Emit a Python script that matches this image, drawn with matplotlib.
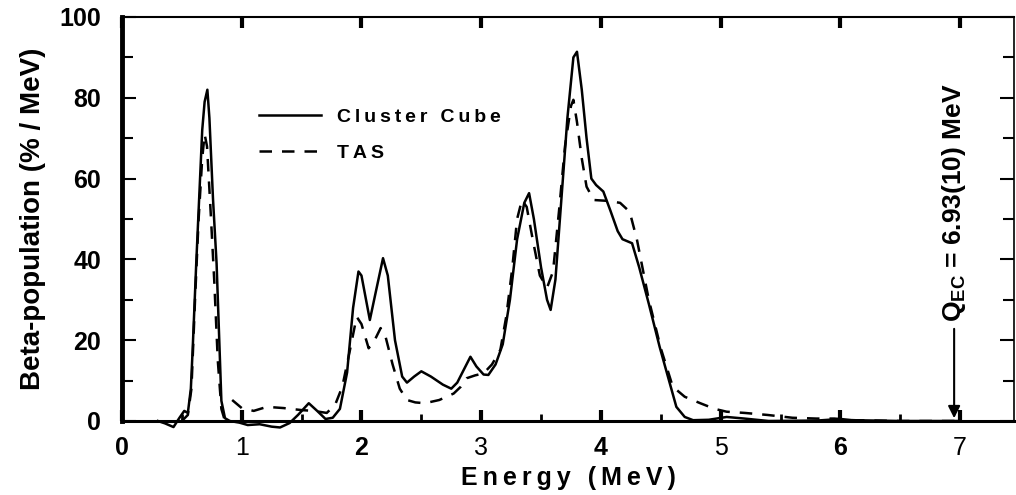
import numpy as np
import matplotlib
matplotlib.use("Agg")
import matplotlib.pyplot as plt
from matplotlib.ticker import MultipleLocator

plt.rcParams['font.family'] = ['Liberation Sans', 'DejaVu Sans']
plt.rcParams['mathtext.fontset'] = 'custom'
plt.rcParams['mathtext.rm'] = 'Liberation Sans'
plt.rcParams['mathtext.bf'] = 'Liberation Sans:bold'

# ---- data ----
cube_E = [0.30, 0.36, 0.43, 0.48, 0.52, 0.55, 0.575, 0.59, 0.62, 0.67, 0.69, 0.713, 0.73, 0.76, 0.79,
          0.81, 0.83, 0.86, 0.90, 0.98, 1.05, 1.15, 1.25, 1.32, 1.40, 1.47, 1.56, 1.63, 1.70, 1.76,
          1.82, 1.88, 1.93, 1.975, 2.00, 2.07, 2.12, 2.18, 2.22, 2.28, 2.34, 2.38, 2.44, 2.50, 2.58,
          2.68, 2.75, 2.80, 2.86, 2.91, 2.96, 3.02, 3.06, 3.12, 3.18, 3.24, 3.30, 3.36, 3.40, 3.44,
          3.50, 3.55, 3.58, 3.62, 3.67, 3.72, 3.77, 3.80, 3.84, 3.88, 3.92, 3.96, 4.02, 4.08, 4.14,
          4.18, 4.26, 4.32, 4.40, 4.49, 4.55, 4.63, 4.70, 4.77, 4.90, 5.05, 5.20, 5.40, 5.80, 6.00,
          6.10, 6.50, 7.00]
cube_B = [0.0, -0.6, -1.5, 0.8, 2.5, 2.0, 8.0, 17.6, 39.0, 72.0, 79.0, 82.0, 75.0, 55.0, 39.0,
          22.0, 5.0, 0.7, 0.0, -0.4, -1.0, -0.8, -1.4, -1.6, -0.5, 1.5, 4.4, 2.5, 0.5, 0.8,
          3.0, 12.0, 28.0, 37.0, 36.0, 25.0, 32.0, 40.3, 36.0, 20.0, 11.0, 9.5, 11.0, 12.3, 11.0,
          9.0, 8.0, 9.5, 13.0, 15.9, 13.5, 11.5, 11.4, 14.0, 19.0, 30.0, 45.0, 54.0, 56.4, 50.0,
          38.0, 30.0, 27.5, 35.0, 55.0, 75.0, 90.0, 91.4, 82.0, 70.0, 60.0, 58.4, 56.8, 52.0, 47.0,
          45.0, 44.0, 38.0, 29.0, 18.4, 12.0, 3.5, 1.0, 0.2, 0.3, 1.0, 0.6, 0.0, 0.1, 0.5,
          0.2, 0.0, 0.0]

tas_E = [0.50, 0.55, 0.58, 0.61, 0.64, 0.67, 0.69, 0.71, 0.74, 0.77, 0.80, 0.83, 0.86, np.nan,
         0.92, 1.00, 1.10, 1.21, 1.35, 1.50, 1.60, 1.71, 1.78, 1.84, 1.90, 1.96, 2.00, 2.06, 2.11,
         2.16, 2.20, 2.26, 2.32, 2.38, 2.45, 2.53, 2.65, 2.77, 2.83, 2.88, 2.95, 3.02, 3.09, 3.16,
         3.21, 3.26, 3.30, 3.34, 3.38, 3.43, 3.49, 3.55, 3.60, 3.65, 3.70, 3.75, 3.77, 3.80, 3.84,
         3.88, 3.94, 4.05, 4.16, 4.24, 4.30, 4.40, 4.50, 4.60, 4.70, 4.83, 4.95, 5.05, 5.20, 5.39,
         5.60, 5.80, 5.95, 6.10, 6.50, 7.00]
tas_B = [0.0, 1.5, 8.0, 30.0, 50.0, 65.0, 71.0, 68.0, 52.0, 35.0, 15.0, 3.0, 0.0, np.nan,
         5.2, 3.2, 2.5, 3.5, 3.2, 2.7, 2.5, 2.0, 4.0, 8.5, 17.0, 25.8, 24.0, 18.0, 20.0,
         23.0, 21.0, 14.0, 8.0, 5.2, 4.6, 4.4, 5.2, 6.8, 8.5, 10.6, 11.3, 11.8, 14.0, 17.6,
         26.0, 38.0, 50.0, 54.7, 53.0, 45.0, 36.0, 33.0, 37.0, 52.0, 68.0, 78.0, 79.5, 74.0, 65.0,
         58.0, 54.7, 54.5, 54.0, 51.8, 45.0, 30.0, 18.0, 8.5, 6.0, 4.4, 3.0, 2.3, 2.0, 1.5,
         0.8, 0.6, 0.6, 0.2, 0.0, 0.0]

x_ticks = [0, 1, 2, 3, 4, 5, 6, 7]
y_ticks = [0, 20, 40, 60, 80, 100]
q_ec = 6.95
q_label = r'$\mathbf{Q_{EC}}$ = 6.93(10) MeV'

def spaced(s):
    return '\u2009'.join(s)

fig = plt.figure(figsize=(10.16, 4.95), dpi=100)
ax = fig.add_axes([122/1016, 74/495, (1014-122)/1016, (421-17)/495])

ax.plot(cube_E, cube_B, color='black', lw=1.8, ls='-', clip_on=False, label=spaced('Cluster Cube'))
ax.plot(tas_E, tas_B, color='black', lw=1.8, ls=(0, (5, 4)), clip_on=False, label=spaced('TAS'))

ax.set_xlim(0, 7.45)
ax.set_ylim(0, 100)

ax.xaxis.set_major_locator(MultipleLocator(1))
ax.xaxis.set_minor_locator(MultipleLocator(0.5))
ax.yaxis.set_major_locator(MultipleLocator(20))
ax.yaxis.set_minor_locator(MultipleLocator(10))
ax.set_xticks(x_ticks)
ax.set_yticks(y_ticks)
ax.set_xticklabels([str(t) for t in x_ticks])
ax.set_yticklabels([str(t) for t in y_ticks])

ax.tick_params(axis='both', which='both', direction='in', top=True, right=True)
ax.tick_params(axis='x', which='major', length=8, width=3, pad=11, labelsize=18)
ax.tick_params(axis='x', which='minor', length=5, width=2, top=False)
ax.tick_params(axis='y', which='major', length=10, width=1.5, pad=15, labelsize=18)
ax.tick_params(axis='y', which='minor', length=8, width=1.5)

for lab in ax.get_yticklabels():
    lab.set_fontweight('bold')
for t, lab in zip(x_ticks, ax.get_xticklabels()):
    lab.set_fontweight('bold' if t % 2 == 0 else 'normal')

ax.spines['left'].set_linewidth(3.5)
ax.spines['bottom'].set_linewidth(2.2)
ax.spines['top'].set_linewidth(1.5)
ax.spines['right'].set_linewidth(1.2)

ax.set_xlabel(spaced('Energy (MeV)'), fontsize=18, fontweight='bold', labelpad=4)
ax.set_ylabel('Beta-population (% / MeV)', fontsize=20, fontweight='bold', labelpad=10)

leg = ax.legend(loc='upper left', bbox_to_anchor=(0.134, 0.818), frameon=False,
                prop={'size': 14, 'weight': 'bold'}, handlelength=3.2, handletextpad=0.8,
                labelspacing=0.95)

ax.annotate('', xy=(q_ec, 0), xytext=(q_ec, 23.5),
            arrowprops=dict(arrowstyle='-|>', color='black', lw=1.5, mutation_scale=18))
ax.text(q_ec, 24.5, q_label, rotation=90, ha='center', va='bottom',
        fontsize=19, fontweight='bold')

fig.savefig('out.png', dpi=100)
